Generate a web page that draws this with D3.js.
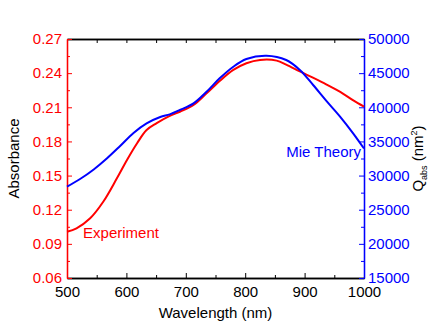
<!DOCTYPE html>
<html>
<head>
<meta charset="utf-8">
<script src="https://cdn.jsdelivr.net/npm/d3@7"></script>
<style>
  body { margin: 0; background: #fff; }
  text { font-family: "Liberation Sans", Arial, sans-serif; }
</style>
</head>
<body>
<div class="chart"></div>
<script>
// data
var wavelength_exp = [500, 516, 539, 561, 584, 601, 618, 634, 651, 673, 690, 713, 735, 757, 780, 802, 825, 853, 869, 892, 914, 937, 960, 982, 1000];
var absorbance = [0.1007, 0.1037, 0.1125, 0.1270, 0.1476, 0.1637, 0.1784, 0.1900, 0.1960, 0.2024, 0.2061, 0.2120, 0.2223, 0.2331, 0.2428, 0.2487, 0.2516, 0.2510, 0.2475, 0.2415, 0.2360, 0.2300, 0.2235, 0.2160, 0.2105];
var wavelength_mie = [500, 522, 545, 567, 589, 612, 634, 657, 673, 690, 713, 735, 757, 780, 802, 836, 869, 892, 914, 937, 960, 982, 1000];
var qabs = [28370, 29500, 30900, 32500, 34300, 36250, 37650, 38580, 38970, 39600, 40580, 42280, 44240, 45940, 47070, 47550, 46920, 45460, 43300, 40900, 38600, 36150, 33960];
var xTicks = [500, 600, 700, 800, 900, 1000];
var leftTicks = [0.06, 0.09, 0.12, 0.15, 0.18, 0.21, 0.24, 0.27];
var rightTicks = [15000, 20000, 25000, 30000, 35000, 40000, 45000, 50000];

var svgwidth = 436, svgheight = 333;
var margin = {top: 39, right: 72, bottom: 55, left: 67};
var w = svgwidth - margin.left - margin.right;
var h = svgheight - margin.top - margin.bottom;
var red = "#ff0000", blue = "#0000ff";

var svg = d3.select(".chart").append("svg")
    .attr("width", svgwidth)
    .attr("height", svgheight)
    .append("g")
    .attr("transform", "translate(" + margin.left + "," + margin.top + ")");

var x = d3.scaleLinear().domain([500, 1000]).range([0, w]);
var yL = d3.scaleLinear().domain([0.06, 0.27]).range([h, 0]);
var yR = d3.scaleLinear().domain([15000, 50000]).range([h, 0]);

function mids(t) {
  var out = [];
  for (var i = 0; i < t.length - 1; i++) out.push((t[i] + t[i + 1]) / 2);
  return out;
}

// minor ticks
svg.append("g").attr("transform", "translate(0," + h + ")")
  .call(d3.axisBottom(x).tickValues(mids(xTicks)).tickFormat("").tickSize(-3).tickSizeOuter(0));
svg.append("g")
  .call(d3.axisTop(x).tickValues(mids(xTicks)).tickFormat("").tickSize(-4).tickSizeOuter(0));
svg.append("g")
  .call(d3.axisLeft(yL).tickValues(mids(leftTicks)).tickFormat("").tickSize(-3).tickSizeOuter(0))
  .attr("color", red);
svg.append("g").attr("transform", "translate(" + w + ",0)")
  .call(d3.axisRight(yR).tickValues(mids(rightTicks)).tickFormat("").tickSize(-3).tickSizeOuter(0))
  .attr("color", blue);

// major axes
var gx = svg.append("g").attr("transform", "translate(0," + h + ")")
  .call(d3.axisBottom(x).tickValues(xTicks).tickFormat(d3.format("d")).tickSize(-5).tickSizeOuter(0).tickPadding(5));
gx.selectAll("text").attr("font-size", 15).attr("fill", "#000").attr("dy", "0.9em");
svg.append("g")
  .call(d3.axisTop(x).tickValues(xTicks).tickFormat("").tickSize(-4).tickSizeOuter(0));

var gl = svg.append("g")
  .call(d3.axisLeft(yL).tickValues(leftTicks).tickFormat(d3.format(".2f")).tickSize(-5).tickSizeOuter(0).tickPadding(5))
  .attr("color", red);
gl.selectAll("text").attr("font-size", 15);

var gr = svg.append("g").attr("transform", "translate(" + w + ",0)")
  .call(d3.axisRight(yR).tickValues(rightTicks).tickFormat(d3.format("d")).tickSize(-5).tickSizeOuter(0).tickPadding(4))
  .attr("color", blue);
gr.selectAll("text").attr("font-size", 15);

svg.selectAll(".domain").attr("stroke-width", 1.3);

// curves
var lineExp = d3.line()
  .x(function(d, i) { return x(wavelength_exp[i]); })
  .y(function(d) { return yL(d); })
  .curve(d3.curveCatmullRom);
var lineMie = d3.line()
  .x(function(d, i) { return x(wavelength_mie[i]); })
  .y(function(d) { return yR(d); })
  .curve(d3.curveCatmullRom);

svg.append("path").datum(absorbance)
  .attr("d", lineExp).attr("fill", "none").attr("stroke", red).attr("stroke-width", 2);
svg.append("path").datum(qabs)
  .attr("d", lineMie).attr("fill", "none").attr("stroke", blue).attr("stroke-width", 2);

// labels
svg.append("text").attr("x", x(527)).attr("y", yL(0.0955))
  .attr("font-size", 15).attr("fill", red).text("Experiment");
svg.append("text").attr("x", x(995)).attr("y", yR(32700))
  .attr("text-anchor", "end").attr("font-size", 15).attr("fill", blue).text("Mie Theory");

svg.append("text").attr("x", w / 2).attr("y", h + 40)
  .attr("text-anchor", "middle").attr("font-size", 15).text("Wavelength (nm)");

svg.append("text")
  .attr("transform", "translate(" + (-48) + "," + (h / 2) + ") rotate(-90)")
  .attr("text-anchor", "middle").attr("font-size", 15).text("Absorbance");

var rt = svg.append("text")
  .attr("transform", "translate(" + (w + 59) + "," + (h / 2) + ") rotate(-90)")
  .attr("text-anchor", "middle").attr("font-size", 15);
rt.append("tspan").text("Q");
rt.append("tspan").attr("font-size", 9).attr("dy", 4).text("abs");
rt.append("tspan").attr("dy", -4).text(" (nm");
rt.append("tspan").attr("font-size", 9).attr("dy", -6).text("2");
rt.append("tspan").attr("dy", 6).text(")");
</script>
</body>
</html>
